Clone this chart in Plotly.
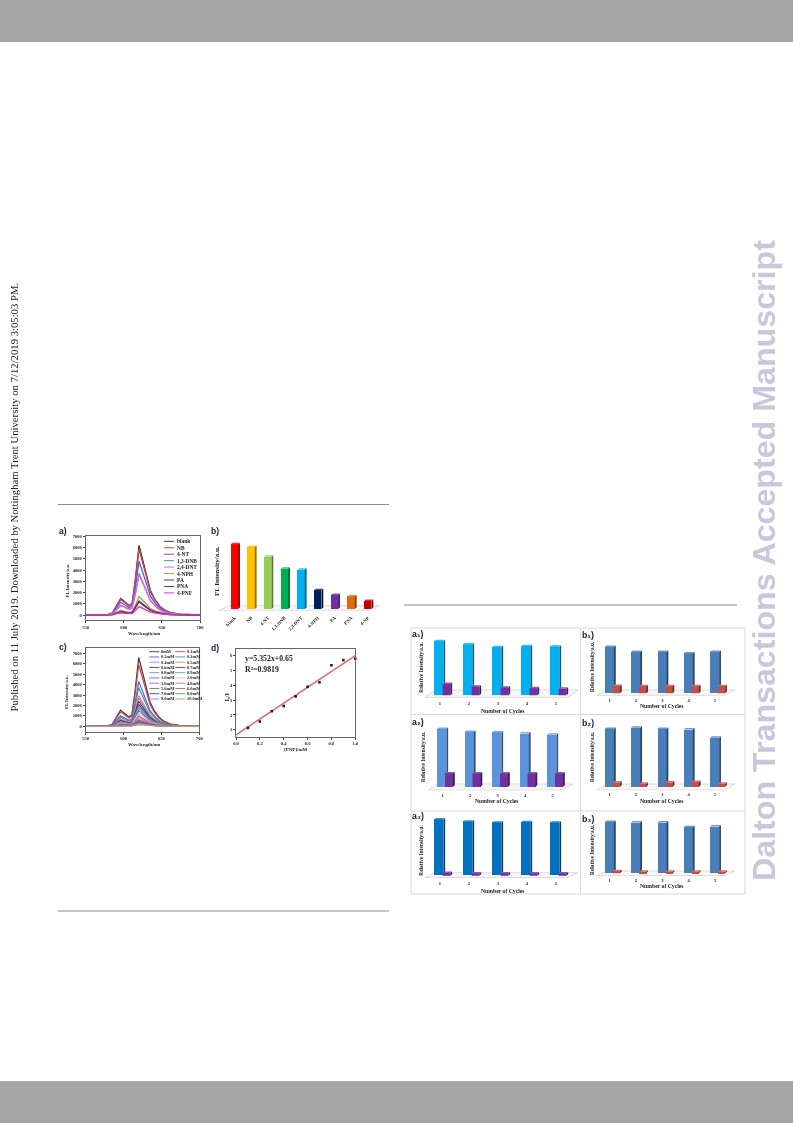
import plotly.graph_objects as go

W, H = 793, 1123
SERIF = "Liberation Serif"
SANS = "Liberation Sans"

# ---------- data ----------
wavelengths = [550, 578, 585, 590, 596, 601, 607, 611, 615, 620, 625, 630, 635, 641, 647, 653, 661, 674, 700]

names_a = ["blank", "NB", "4-NT", "1,3-DNB", "2,4-DNT", "4-NPH", "PA", "PNA", "4-PNF"]
spectra_a = [
    [0, 20, 190, 810, 1460, 1180, 840, 1050, 3100, 6200, 4840, 3410, 2170, 1360, 810, 470, 220, 75, 0],
    [0, 18, 175, 760, 1380, 1110, 790, 995, 2925, 5850, 4560, 3220, 2050, 1290, 760, 440, 205, 70, 0],
    [0, 15, 145, 625, 1130, 910, 650, 815, 2400, 4800, 3745, 2640, 1680, 1055, 625, 360, 170, 58, 0],
    [0, 11, 110, 480, 870, 700, 500, 630, 1850, 3700, 2885, 2035, 1295, 815, 480, 280, 130, 45, 0],
    [0, 11, 108, 470, 845, 685, 485, 610, 1800, 3600, 2810, 1980, 1260, 790, 470, 270, 125, 43, 0],
    [0, 5, 50, 215, 420, 330, 235, 290, 825, 1650, 1285, 905, 575, 365, 215, 125, 58, 20, 0],
    [0, 4, 38, 165, 300, 245, 170, 215, 625, 1250, 975, 690, 440, 275, 165, 95, 44, 15, 0],
    [0, 3, 34, 150, 270, 220, 155, 195, 575, 1150, 900, 630, 400, 255, 150, 85, 40, 14, 0],
    [0, 2, 22, 95, 200, 150, 100, 125, 375, 750, 585, 410, 260, 165, 98, 56, 26, 9, 0],
]
colors_a = ["#3a3a3a", "#d04545", "#5a5ae6", "#3f9c8c", "#f060f0", "#a8a040", "#3a3a9a", "#8a2a4a", "#e030d0"]

names_b = ["blank", "NB", "4-NT", "1,3-DNB", "2,4-DNT", "4-NPH", "PA", "PNA", "4-NP"]
values_b = [6200, 5950, 5000, 3850, 3750, 1800, 1350, 1200, 770]
colors_b = ["#ff0000", "#ffc000", "#92d050", "#00b050", "#00b0f0", "#002060", "#7030a0", "#e36c0a", "#c00000"]

names_c = ["0mM", "0.1mM", "0.2mM", "0.3mM", "0.4mM", "0.5mM", "0.6mM", "0.7mM", "0.8mM", "0.9mM",
           "1.0mM", "2.0mM", "3.0mM", "4.0mM", "5.0mM", "6.0mM", "7.0mM", "8.0mM", "9.0mM", "10.0mM"]
spectra_c = [
    [0, 20, 200, 860, 1550, 1255, 890, 1120, 3300, 6600, 5150, 3630, 2310, 1450, 860, 495, 230, 80, 0],
    [0, 18, 177, 770, 1390, 1120, 800, 1000, 2950, 5900, 4600, 3245, 2065, 1300, 770, 440, 205, 70, 0],
    [0, 13, 130, 560, 1010, 815, 580, 730, 2150, 4300, 3355, 2365, 1505, 945, 560, 320, 150, 52, 0],
    [0, 11, 110, 480, 870, 700, 500, 630, 1850, 3700, 2885, 2035, 1295, 815, 480, 280, 130, 45, 0],
    [0, 9, 88, 385, 695, 560, 400, 500, 1475, 2950, 2300, 1620, 1030, 650, 385, 220, 103, 35, 0],
    [0, 8, 81, 350, 635, 515, 365, 460, 1350, 2700, 2105, 1485, 945, 595, 350, 200, 95, 32, 0],
    [0, 7, 72, 310, 565, 455, 325, 410, 1200, 2400, 1870, 1320, 840, 530, 310, 180, 84, 29, 0],
    [0, 6, 63, 275, 495, 400, 285, 355, 1050, 2100, 1640, 1155, 735, 460, 275, 158, 74, 25, 0],
    [0, 6, 57, 245, 445, 360, 255, 325, 950, 1900, 1480, 1045, 665, 420, 245, 142, 66, 23, 0],
    [0, 5, 51, 220, 400, 325, 230, 290, 850, 1700, 1325, 935, 595, 375, 220, 128, 60, 20, 0],
    [0, 5, 45, 195, 350, 285, 200, 255, 750, 1500, 1170, 825, 525, 330, 195, 112, 52, 18, 0],
    [0, 4, 38, 165, 300, 245, 170, 215, 625, 1250, 975, 690, 440, 275, 165, 95, 44, 15, 0],
    [0, 3, 30, 130, 235, 190, 135, 170, 500, 1000, 780, 550, 350, 220, 130, 75, 35, 12, 0],
    [0, 2, 24, 105, 190, 150, 108, 135, 400, 800, 625, 440, 280, 175, 105, 60, 28, 10, 0],
    [0, 2, 18, 78, 140, 115, 80, 100, 300, 600, 470, 330, 210, 130, 78, 45, 21, 7, 0],
    [0, 1, 14, 62, 112, 90, 65, 82, 240, 480, 375, 265, 170, 105, 62, 36, 17, 6, 0],
    [0, 1, 12, 52, 94, 76, 54, 68, 200, 400, 310, 220, 140, 88, 52, 30, 14, 5, 0],
    [0, 1, 10, 42, 75, 60, 43, 54, 160, 320, 250, 175, 112, 70, 42, 24, 11, 4, 0],
    [0, 1, 7, 31, 56, 46, 32, 41, 120, 240, 187, 132, 84, 53, 31, 18, 8, 3, 0],
    [0, 0, 5, 21, 38, 30, 22, 27, 80, 160, 125, 88, 56, 35, 21, 12, 6, 2, 0],
]
colors_c = ["#3a3a3a", "#d04545", "#5a5ae6", "#3f9c8c", "#f060f0", "#a8a040", "#3a3a9a", "#8a2a4a", "#5f8fe0", "#50b0a0",
            "#6a6ad8", "#e8c070", "#a060e0", "#d070c0", "#707070", "#e05050", "#4040c0", "#40a0a0", "#e060e0", "#b0a848"]

conc_d = [0.1, 0.2, 0.3, 0.4, 0.5, 0.6, 0.7, 0.8, 0.9, 1.0]
ratio_d = [1.12, 1.55, 2.25, 2.6, 3.25, 3.9, 4.2, 5.35, 5.7, 5.8]
fit_x = [0.0, 1.0]
fit_y = [0.65, 6.0]

cycles = [1, 2, 3, 4, 5]
a1_on = [100, 94, 89, 91, 90]
a1_off = [21, 16, 14, 13, 12]
a2_on = [100, 95, 94, 92, 90]
a2_off = [23, 23, 23, 23, 23]
a3_on = [100, 96, 94, 95, 94]
a3_off = [5, 4, 4, 4, 4]
b1_on = [100, 89, 89, 86, 89]
b1_off = [16, 15, 15, 15, 15]
b2_on = [98, 100, 98, 97, 83]
b2_off = [7, 5, 7, 8, 5]
b3_on = [100, 99, 99, 90, 91]
b3_off = [4, 3, 3, 3, 3]

# ---------- helpers ----------
fig = go.Figure()
layout = dict(width=W, height=H, margin=dict(l=0, r=0, t=0, b=0, pad=0, autoexpand=False), paper_bgcolor="white", plot_bgcolor="rgba(0,0,0,0)",
              showlegend=False, hovermode=False, barmode="overlay", bargap=0)
shapes, annos = [], []


def px(x):
    return x / W


def py(y):
    return 1 - y / H


def rule(x0, y0, x1, y1, color="#8c8c8c", width=1.0):
    shapes.append(dict(type="line", xref="paper", yref="paper", x0=px(x0), x1=px(x1), y0=py(y0), y1=py(y1),
                       line=dict(color=color, width=width)))


def block(x0, y0, x1, y1, color):
    shapes.append(dict(type="rect", xref="paper", yref="paper", x0=px(x0), x1=px(x1), y0=py(y0), y1=py(y1),
                       line=dict(width=0), fillcolor=color))


def text(x, y, s, size=5, color="#222", bold=True, angle=0, family=SERIF, xanchor="center"):
    annos.append(dict(xref="paper", yref="paper", x=px(x), y=py(y), text=f"<b>{s}</b>" if bold else s, showarrow=False,
                      font=dict(size=size, color=color, family=family), textangle=angle, xanchor=xanchor, yanchor="middle",
                      borderpad=0, borderwidth=0))


axis_n = [0]


def axes(x0, y0, x1, y1, xa, ya):
    axis_n[0] += 1
    n = axis_n[0]
    suffix = "" if n == 1 else str(n)
    xa = dict(xa, domain=[px(x0), px(x1)], anchor="y" + suffix)
    ya = dict(ya, domain=[py(y1), py(y0)], anchor="x" + suffix)
    layout["xaxis" + suffix] = xa
    layout["yaxis" + suffix] = ya
    return "x" + suffix, "y" + suffix


TICK = dict(size=4.6, family=SERIF, color="#222", weight="bold")


def framed(xr, yr, xticks, yticks, ticktext=None):
    base = dict(showline=True, mirror=True, linecolor="#666", linewidth=0.8, showgrid=False, zeroline=False,
                ticks="outside", ticklen=2, tickwidth=0.6, tickcolor="#444", tickfont=TICK)
    return dict(base, range=xr, tickvals=xticks, ticktext=[str(t) for t in xticks] if ticktext is None else ticktext), \
        dict(base, range=yr, tickvals=yticks, ticktext=[str(t) for t in yticks])


def shade(c, f=0.6):
    r, g, b = int(c[1:3], 16), int(c[3:5], 16), int(c[5:7], 16)
    return f"rgb({int(r*f)},{int(g*f)},{int(b*f)})"


def tint(c, f=0.75):
    r, g, b = int(c[1:3], 16), int(c[3:5], 16), int(c[5:7], 16)
    return f"rgb({int(r+(255-r)*(1-f))},{int(g+(255-g)*(1-f))},{int(b+(255-b)*(1-f))})"


def poly(xa, ya, xs, ys, color):
    fig.add_trace(go.Scatter(x=xs, y=ys, xaxis=xa, yaxis=ya, mode="lines", fill="toself", fillcolor=color,
                             line=dict(width=0), hoverinfo="skip"))


def faces(xa, ya, xc, vals, w, dx, dy, side, top, front=None):
    """Side and top (and optionally front) faces of 3-D looking columns, built from the values."""
    sx, sy, tx, ty, fx, fy = [], [], [], [], [], []
    for c, v in zip(xc, vals):
        l, r = c - w / 2, c + w / 2
        sx += [r, r + dx, r + dx, r, None]
        sy += [0, dy, v + dy, v, None]
        tx += [l, l + dx, r + dx, r, None]
        ty += [v, v + dy, v + dy, v, None]
        fx += [l, r, r, l, None]
        fy += [0, 0, v, v, None]
    if front:
        poly(xa, ya, fx, fy, front)
    poly(xa, ya, sx, sy, side)
    poly(xa, ya, tx, ty, top)


def floor_shape(xa, ya, fx0, fx1, bx0, bx1, fy, by):
    path = f"M{fx0},{fy} L{fx1},{fy} L{bx1},{by} L{bx0},{by} Z"
    shapes.append(dict(type="path", xref=xa, yref=ya, path=path, layer="below",
                       line=dict(color="#cfcfcf", width=0.7), fillcolor="rgba(240,240,240,0.5)"))


SUBS = {"1": "\u2081", "2": "\u2082", "3": "\u2083"}


def cycle_panel(tag, on, off, x_tick1, step, main_c, main_w, small_c, small_w, base, front, back, L, R, full_px,
                col_main, col_small, tick_y, title_x, title_y, ylabel_x, ylabel_y, label_xy):
    k = max(on) / full_px
    top_px = base - full_px - 5
    xr = [1 + (L - x_tick1) / step, 1 + (R - x_tick1) / step]
    yr = [-(front - base + 0.6) * k, (base - top_px) * k]
    standoff = round(tick_y - (front + 0.6 + 3.0))
    xa, ya = axes(L, top_px, R, front + 0.6,
                  dict(range=xr, tickvals=cycles, ticktext=[str(c) for c in cycles], showline=False, showgrid=False, zeroline=False,
                       ticks="", ticklabelstandoff=standoff, tickfont=TICK),
                  dict(range=yr, visible=False, showgrid=False, zeroline=False))
    mo = (main_c - x_tick1) / step
    so = (small_c - x_tick1) / step
    mw, sw = main_w / step, small_w / step
    dx, dy = 1.8 / step, 1.5 * k
    floor_shape(xa, ya, xr[0], xr[1] - 10 / step, xr[0] + 10 / step, xr[1], -(front - base) * k, (base - back) * k)
    mx = [c + mo for c in cycles]
    sx = [c + so for c in cycles]
    fig.add_trace(go.Bar(x=mx, y=on, width=mw, xaxis=xa, yaxis=ya, marker=dict(color=col_main, line=dict(width=0)), name=tag + " on"))
    fig.add_trace(go.Bar(x=sx, y=off, width=sw, xaxis=xa, yaxis=ya, marker=dict(color=col_small, line=dict(width=0)), name=tag + " off"))
    faces(xa, ya, mx, on, mw, dx, dy, shade(col_main, 0.55), tint(col_main, 0.8))
    faces(xa, ya, sx, off, sw, dx, dy, shade(col_small, 0.6), tint(col_small, 0.8), front=col_small)
    text(title_x, title_y, "Number of Cycles", 5.7)
    text(ylabel_x, ylabel_y, "Relative Intensity/a.u.", 5.4, angle=-90)
    text(label_xy[0], label_xy[1], f"{tag[0]}{SUBS[tag[1]]})", 8.8, family=SANS, color="#1a1a40")


# ---------- page furniture ----------
block(0, 0, W, 42, "#a6a6a6")
block(0, 1081, W, H, "#a6a6a6")
rule(58, 504.5, 389, 504.5)
rule(58, 911, 389, 911)
rule(404, 605, 737, 605)
text(13, 497.5, "Published on 11 July 2019. Downloaded by Nottingham Trent University on 7/12/2019 3:05:03 PM.",
     10.7, color="#222", bold=False, angle=-90)
text(764, 561, "Dalton Transactions Accepted Manuscript", 32.2, color="#c8c8dd", angle=-90, family=SANS)
for seg in [(411, 628, 745, 628), (411, 894, 745, 894), (411, 628, 411, 894), (745, 628, 745, 894),
            (580.5, 628, 580.5, 894), (411, 714.5, 745, 714.5), (411, 811, 745, 811)]:
    rule(*seg, color="#d9d9d9", width=1)

# ---------- panel a ----------
xcfg, ycfg = framed([550, 700], [-470, 7000], [550, 600, 650, 700], [0, 1000, 2000, 3000, 4000, 5000, 6000, 7000])
xa, ya = axes(85.7, 536.3, 200, 620.3, xcfg, ycfg)
for s, c, n in zip(spectra_a, colors_a, names_a):
    fig.add_trace(go.Scatter(x=wavelengths, y=s, mode="lines", name=n, xaxis=xa, yaxis=ya, line=dict(color=c, width=1.3)))
for i, (n, c) in enumerate(zip(names_a, colors_a)):
    y = 541.3 + 6.45 * i
    rule(164, y, 174, y, color=c, width=1)
    text(176.5, y, n, 5.4, xanchor="left")
text(66.5, 581, "FL Intensity/a.u.", 4.8, angle=-90)
text(144, 633.5, "Wavelength/nm", 4.8)
text(63, 531, "a)", 8.5, family=SANS, color="#1a1a40")

# ---------- panel b ----------
step_b = 16.67
x1_b = 234.4
k_b = values_b[0] / 64.7
L_b, R_b, base_b, front_b, back_b = 219, 380, 609, 610.3, 605.7
xr_b = [1 + (L_b - x1_b) / step_b, 1 + (R_b - x1_b) / step_b]
idx_b = list(range(1, len(values_b) + 1))
xa, ya = axes(L_b, 538, R_b, front_b + 0.5,
              dict(range=xr_b, tickvals=idx_b, ticktext=names_b, tickangle=-45, showline=False, showgrid=False, zeroline=False,
                   ticks="outside", ticklen=1.5, tickwidth=0.1, tickcolor="rgba(0,0,0,0)", tickfont=dict(TICK, size=4.8)),
              dict(range=[-(front_b - base_b + 0.5) * k_b, (base_b - 538) * k_b], visible=False, showgrid=False, zeroline=False))
floor_shape(xa, ya, xr_b[0], xr_b[1] - 10 / step_b, xr_b[0] + 10 / step_b, xr_b[1], -(front_b - base_b) * k_b, (base_b - back_b) * k_b)
w_b = 7.3 / step_b
fig.add_trace(go.Bar(x=idx_b, y=values_b, width=w_b, xaxis=xa, yaxis=ya, marker=dict(color=colors_b, line=dict(width=0)), name="FL"))
for i, v, c in zip(idx_b, values_b, colors_b):
    faces(xa, ya, [i], [v], w_b, 1.9 / step_b, 1.5 * k_b, shade(c, 0.6), tint(c, 0.8))
text(217, 571, "FL Intensity/a.u.", 7, angle=-90)
text(215, 531, "b)", 8.5, family=SANS, color="#1a1a40")

# ---------- panel c ----------
xcfg, ycfg = framed([550, 700], [-518, 7480], [550, 600, 650, 700], [0, 1000, 2000, 3000, 4000, 5000, 6000, 7000])
xa, ya = axes(85.7, 648.3, 199.3, 731.7, xcfg, ycfg)
for s, c, n in zip(spectra_c, colors_c, names_c):
    fig.add_trace(go.Scatter(x=wavelengths, y=s, mode="lines", name=n, xaxis=xa, yaxis=ya, line=dict(color=c, width=1.2)))
for i, (n, c) in enumerate(zip(names_c, colors_c)):
    y = 651.7 + 5.25 * (i // 2)
    x0 = 149.3 if i % 2 == 0 else 175.3
    rule(x0, y, x0 + 10, y, color=c, width=0.9)
    text(x0 + 11.3, y, n, 4.4, xanchor="left")
text(66, 692, "FL Intensity/a.u.", 4.8, angle=-90)
text(144, 744, "Wavelength/nm", 4.8)
text(63, 647, "c)", 8.5, family=SANS, color="#1a1a40")

# ---------- panel d ----------
xcfg, ycfg = framed([0, 1], [0.527, 6.45], [0, 0.2, 0.4, 0.6, 0.8, 1.0], [1, 2, 3, 4, 5, 6],
                    ticktext=["0.0", "0.2", "0.4", "0.6", "0.8", "1.0"])
xa, ya = axes(236, 649, 355.3, 736.7, xcfg, ycfg)
fig.add_trace(go.Scatter(x=fit_x, y=fit_y, mode="lines", xaxis=xa, yaxis=ya, name="fit", line=dict(color="#e06a6a", width=1.6)))
fig.add_trace(go.Scatter(x=conc_d, y=ratio_d, mode="markers", xaxis=xa, yaxis=ya, name="data", cliponaxis=False,
                         marker=dict(color="#222", size=2.6, symbol="square")))
text(245, 658.5, "y=5.352x+0.65", 7.8, xanchor="left")
text(245, 669.5, "R\u00b2=0.9819", 7.8, xanchor="left")
text(225.5, 697, "I\u2080/I", 6.2, angle=-90)
text(296, 750, "[PNP]/mM", 5)
text(215, 648, "d)", 8.5, family=SANS, color="#1a1a40")

# ---------- cycle panels ----------
cycle_panel("a1", a1_on, a1_off, 440, 29, 438.7, 9.3, 446.5, 7.7, 695.3, 697.3, 690, 425, 578, 54,
            "#00b0f0", "#7030a0", 702, 503, 710.7, 420.7, 667, (418, 634))
cycle_panel("a2", a2_on, a2_off, 442.7, 27.5, 441.7, 9.3, 449, 8, 786.7, 790, 784, 428, 573, 57.7,
            "#5b94dc", "#7030a0", 794.3, 497, 801.3, 423, 757, (418, 722))
cycle_panel("a3", a3_on, a3_off, 440, 29, 438.7, 9.3, 446.5, 7.7, 875.7, 877.5, 872.7, 425, 578, 56.3,
            "#0070c0", "#7030a0", 882, 503, 890.7, 420.7, 850, (418, 816))
cycle_panel("b1", b1_on, b1_off, 609.7, 26.3, 609.3, 9.3, 616.3, 7.3, 693.3, 695.3, 690, 596.7, 735, 46.3,
            "#4a7ebb", "#c0504d", 699.3, 662, 706.3, 592, 667, (588, 634.7))
cycle_panel("b2", b2_on, b2_off, 609.7, 26.3, 609.3, 9.3, 616.3, 7.3, 786.7, 790, 784, 596.7, 735, 59,
            "#4a7ebb", "#c0504d", 794, 662, 800.7, 592, 757, (588, 723))
cycle_panel("b3", b3_on, b3_off, 609.7, 26.3, 609.3, 9.3, 616.3, 7.3, 873.3, 875.5, 871, 596.7, 735, 51.3,
            "#4a7ebb", "#c0504d", 879.3, 662, 886, 592, 850, (588, 819))

layout["shapes"] = shapes
layout["annotations"] = annos
fig.update_layout(**layout)

post = """
document.body.style.margin='0';
document.documentElement.style.overflow='hidden';
document.querySelectorAll('.cartesianlayer, .layer-below').forEach(function(e){e.style.filter='blur(0.7px)';});
document.querySelectorAll('.annotation').forEach(function(e){
  var t=e.textContent||'';
  if(t.indexOf('Published')<0 && t.indexOf('Dalton')<0){e.style.filter='blur(0.6px)';}
});
"""
fig.write_html("out.html", post_script=post, config=dict(displayModeBar=False, responsive=False))
